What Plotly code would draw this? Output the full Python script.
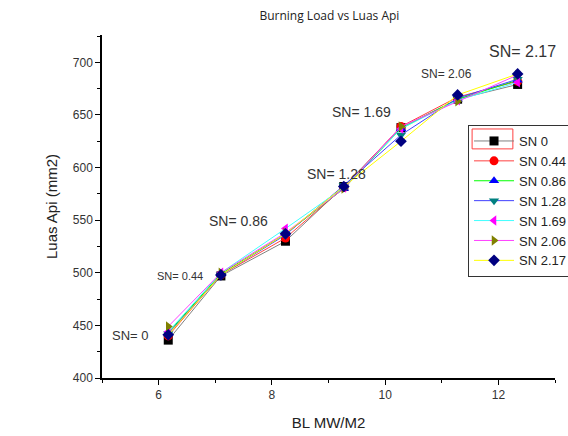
import plotly.graph_objects as go

x_bl = [6.17, 7.1, 8.24, 9.27, 10.28, 11.28, 12.34]

series_names = ["SN 0", "SN 0.44", "SN 0.86", "SN 1.28", "SN 1.69", "SN 2.06", "SN 2.17"]
sn0 = [436, 497, 530, 582, 638, 665, 679]
sn044 = [440, 498, 533, 581, 639, 667, 682]
sn086 = [443, 499, 537, 580, 637, 665, 683]
sn128 = [442, 498, 536, 583, 631, 666, 684]
sn169 = [444, 500, 542, 581, 637, 664, 681]
sn206 = [449, 500, 538, 580, 639, 663, 688]
sn217 = [441, 498, 537, 582, 625, 669, 689]
series_values = [sn0, sn044, sn086, sn128, sn169, sn206, sn217]

line_colors = ["#808080", "#ff4040", "#00ff00", "#4040ff", "#40ffff", "#ff40ff", "#ffff00"]
marker_colors = ["#000000", "#ff0000", "#0000ff", "#008080", "#ff00ff", "#808000", "#000080"]
marker_symbols = ["square", "circle", "triangle-up", "triangle-down", "triangle-left", "triangle-right", "diamond"]

ann_text = ["SN= 0", "SN= 0.44", "SN= 0.86", "SN= 1.28", "SN= 1.69", "SN= 2.06", "SN= 2.17"]
ann_x = [5.5, 6.38, 7.41, 9.14, 9.58, 11.09, 12.42]
ann_y = [440, 497, 549, 594, 653, 689, 710]
ann_size = [13, 11, 14, 14, 14, 12, 16]

fig = go.Figure()
for name, vals, lc, mc, sym in zip(series_names, series_values, line_colors, marker_colors, marker_symbols):
    fig.add_trace(go.Scatter(
        x=x_bl, y=vals, name=name, mode="lines+markers",
        line=dict(color=lc, width=1),
        marker=dict(color=mc, symbol=sym, size=9),
    ))

for t, ax, ay, s in zip(ann_text, ann_x, ann_y, ann_size):
    fig.add_annotation(x=ax, y=ay, text=t, showarrow=False,
                       font=dict(size=s, color="#333333", family="Liberation Sans"))

# red highlight box around the first legend entry (as in the reference)
fig.add_shape(type="rect", xref="paper", yref="paper",
              x0=0.817, x1=0.907, y0=0.668, y1=0.726,
              line=dict(color="#ff4040", width=1), fillcolor="rgba(0,0,0,0)")

fig.update_layout(
    width=568, height=436,
    margin=dict(l=102, r=13, t=35, b=58, autoexpand=False),
    paper_bgcolor="white", plot_bgcolor="white",
    font=dict(family="Liberation Sans", color="#222222"),
    title=dict(text="Burning Load vs Luas Api", x=0.58, xanchor="center", y=0.963, yanchor="middle",
               font=dict(size=12, family="Open Sans", color="#222222"), automargin=False),
    showlegend=True,
    legend=dict(x=0.808, y=0.7376, xanchor="left", yanchor="top",
                bordercolor="#333333", borderwidth=1, bgcolor="rgba(0,0,0,0)",
                itemwidth=40,
                font=dict(size=13, color="#222222"), tracegroupgap=0),
    xaxis=dict(range=[5, 13], dtick=2, tick0=6, showgrid=False, zeroline=False, automargin=False,
               showline=True, linecolor="black", linewidth=1.5,
               ticks="outside", ticklen=5, tickcolor="black",
               tickfont=dict(size=12, color="#333333"),
               minor=dict(ticks="outside", ticklen=3, dtick=1, tick0=5, tickcolor="black"),
               title=dict(text="BL MW/M2", font=dict(size=15, color="#222222"), standoff=16)),
    yaxis=dict(range=[400, 726], dtick=50, showgrid=False, zeroline=False, automargin=False,
               showline=True, linecolor="black", linewidth=1.5,
               ticks="outside", ticklen=5, tickcolor="black",
               tickfont=dict(size=12, color="#333333"),
               minor=dict(ticks="outside", ticklen=3, dtick=25, tickcolor="black"),
               title=dict(text="Luas Api (mm2)", font=dict(size=15, color="#222222"), standoff=12)),
)

fig.write_html("out.html", config={"displayModeBar": False},
               post_script="document.body.style.margin='0';document.body.style.overflow='hidden';")
